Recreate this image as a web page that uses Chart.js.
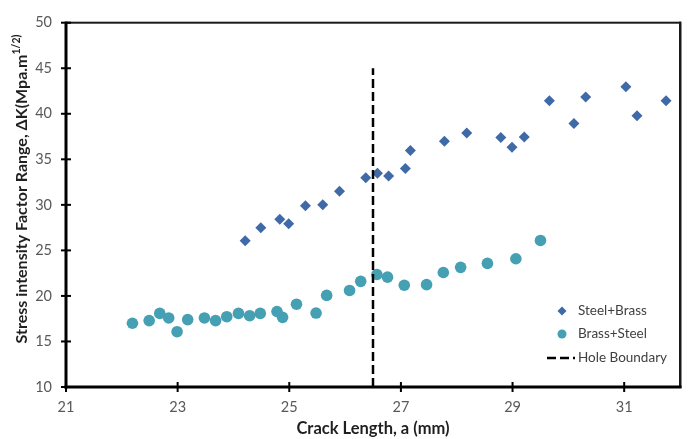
<!DOCTYPE html>
<html>
<head>
<meta charset="utf-8">
<script src="https://cdn.jsdelivr.net/npm/chart.js@4.4.1/dist/chart.umd.min.js"></script>
<style>
  html, body { margin: 0; padding: 0; background: #ffffff; }
  #wrap { width: 688px; height: 439px; position: relative; }
</style>
</head>
<body>
<div id="wrap"><canvas id="c" width="688" height="439"></canvas></div>
<script>
// ---- Data ----
const steelBrassX = [24.21, 24.49, 24.83, 24.99, 25.29, 25.60, 25.90, 26.37, 26.58, 26.78, 27.08, 27.17, 27.78, 28.18, 28.79, 28.99, 29.21, 29.66, 30.10, 30.31, 31.03, 31.23, 31.75];
const steelBrassY = [26.05, 27.49, 28.42, 27.92, 29.89, 30.00, 31.48, 32.98, 33.48, 33.16, 33.99, 35.96, 36.97, 37.89, 37.39, 36.32, 37.45, 41.42, 38.92, 41.85, 42.96, 39.77, 41.42];

const brassSteelX = [22.19, 22.49, 22.68, 22.84, 22.99, 23.18, 23.48, 23.68, 23.88, 24.09, 24.29, 24.48, 24.78, 24.88, 25.13, 25.48, 25.67, 26.08, 26.28, 26.57, 26.76, 27.06, 27.46, 27.76, 28.07, 28.55, 29.06, 29.50];
const brassSteelY = [17.00, 17.29, 18.08, 17.58, 16.07, 17.40, 17.58, 17.29, 17.72, 18.08, 17.83, 18.08, 18.29, 17.65, 19.09, 18.12, 20.06, 20.60, 21.60, 22.35, 22.06, 21.17, 21.24, 22.57, 23.14, 23.57, 24.08, 26.09];

const holeBoundaryX = [26.5, 26.5];
const holeBoundaryY = [10, 45];

const seriesNames = ['Steel+Brass', 'Brass+Steel', 'Hole Boundary'];
const xTickValues = [21, 23, 25, 27, 29, 31];
const yTickValues = [10, 15, 20, 25, 30, 35, 40, 45, 50];
const xRange = [21, 32];
const yRange = [10, 50];
const xTitle = 'Crack Length, a (mm)';
const yTitleMain = 'Stress intensity Factor Range, \u0394K(Mpa.m';
const yTitleSup = '1/2)';

// ---- Styling ----
const FONT = 'Lato, "Open Sans", "DejaVu Sans", sans-serif';
const COL_DIAMOND = '#3f69a7';
const COL_CIRCLE = '#45a0b3';

const zip = (xs, ys) => xs.map((x, i) => ({ x: x, y: ys[i] }));

const framePlugin = {
  id: 'frame',
  afterDraw(chart) {
    const ctx = chart.ctx;
    const a = chart.chartArea;
    const xs = chart.scales.x, ys = chart.scales.y;
    ctx.save();
    ctx.setLineDash([]);
    // filled rectangles instead of strokes for crisp thick frame
    ctx.fillStyle = '#1a1a1a';
    ctx.fillRect(a.left - 1, a.top - 1, a.right - a.left + 2, 2);          // top
    ctx.fillRect(a.right - 1, a.top - 1, 2.5, a.bottom - a.top + 2);       // right
    ctx.fillStyle = '#000';
    ctx.fillRect(a.left - 1.5, a.top - 1, 3, a.bottom - a.top + 2.5);      // left axis
    ctx.fillRect(a.left - 1.5, a.bottom - 1.5, a.right - a.left + 3, 3);   // bottom axis
    // crossing tick marks
    yTickValues.forEach(v => {
      const p = ys.getPixelForValue(v);
      ctx.fillRect(a.left - 5, p - 1, 10, 2);
    });
    xTickValues.forEach(v => {
      const p = xs.getPixelForValue(v);
      ctx.fillRect(p - 1, a.bottom - 5, 2, 10);
    });

    // y-axis title with superscript
    const mainFont = 'bold 16px ' + FONT;
    const supFont = 'bold 10.5px ' + FONT;
    ctx.font = mainFont;
    const w1 = ctx.measureText(yTitleMain).width;
    ctx.font = supFont;
    const w2 = ctx.measureText(yTitleSup).width;
    const total = w1 + w2;
    ctx.translate(22, 189);
    ctx.rotate(-Math.PI / 2);
    ctx.fillStyle = '#1f1f1f';
    ctx.textBaseline = 'middle';
    ctx.textAlign = 'left';
    ctx.font = mainFont;
    ctx.fillText(yTitleMain, -total / 2, 0);
    ctx.font = supFont;
    ctx.fillText(yTitleSup, -total / 2 + w1, -5.5);
    ctx.restore();

    // legend inside plot area (bottom right)
    ctx.save();
    const lx = a.right - 118, tx = a.right - 102;
    const rows = [a.bottom - 76, a.bottom - 53, a.bottom - 29];
    ctx.fillStyle = COL_DIAMOND;
    ctx.beginPath();
    ctx.moveTo(lx, rows[0] - 4.5); ctx.lineTo(lx + 4.5, rows[0]); ctx.lineTo(lx, rows[0] + 4.5); ctx.lineTo(lx - 4.5, rows[0]);
    ctx.closePath(); ctx.fill();
    ctx.fillStyle = COL_CIRCLE;
    ctx.beginPath(); ctx.arc(lx, rows[1], 4.5, 0, Math.PI * 2); ctx.fill();
    ctx.strokeStyle = '#000'; ctx.lineWidth = 2.5;
    ctx.setLineDash([9, 4]);
    ctx.beginPath(); ctx.moveTo(lx - 15, rows[2]); ctx.lineTo(lx + 13, rows[2]); ctx.stroke();
    ctx.setLineDash([]);
    ctx.fillStyle = '#404040';
    ctx.font = '13.5px ' + FONT;
    ctx.textBaseline = 'middle';
    ctx.textAlign = 'left';
    seriesNames.forEach((n, i) => ctx.fillText(n, tx, rows[i]));
    ctx.restore();
  }
};

new Chart(document.getElementById('c'), {
  type: 'scatter',
  data: {
    datasets: [
      {
        label: seriesNames[0],
        data: zip(steelBrassX, steelBrassY),
        pointStyle: 'rectRot',
        pointRadius: 5.5,
        backgroundColor: COL_DIAMOND,
        borderColor: COL_DIAMOND,
        borderWidth: 0,
        order: 2
      },
      {
        label: seriesNames[1],
        data: zip(brassSteelX, brassSteelY),
        pointStyle: 'circle',
        pointRadius: 5.8,
        backgroundColor: COL_CIRCLE,
        borderColor: COL_CIRCLE,
        borderWidth: 0,
        order: 3
      },
      {
        label: seriesNames[2],
        type: 'line',
        data: zip(holeBoundaryX, holeBoundaryY),
        borderColor: '#000',
        borderWidth: 2.5,
        borderDash: [9, 4],
        pointRadius: 0,
        fill: false,
        order: 1
      }
    ]
  },
  plugins: [framePlugin],
  options: {
    responsive: false,
    animation: false,
    events: [],
    layout: { padding: { top: 15, right: 8, left: 0, bottom: 0 } },
    plugins: { legend: { display: false }, tooltip: { enabled: false } },
    scales: {
      x: {
        type: 'linear',
        min: xRange[0], max: xRange[1],
        afterBuildTicks: s => { s.ticks = xTickValues.map(v => ({ value: v })); },
        afterFit: s => { s.height = 52; },
        grid: { display: false, drawTicks: false },
        border: { display: false },
        ticks: { padding: 12, color: '#595959', font: { family: FONT, size: 14.5 }, maxRotation: 0, autoSkip: false },
        title: { display: true, text: xTitle, color: '#1f1f1f', font: { family: FONT, size: 16.5, weight: 'bold' }, padding: { top: 0, bottom: 0 } }
      },
      y: {
        type: 'linear',
        min: yRange[0], max: yRange[1],
        afterBuildTicks: s => { s.ticks = yTickValues.map(v => ({ value: v })); },
        afterFit: s => { s.width = 66; },
        grid: { display: false, drawTicks: false },
        border: { display: false },
        ticks: { padding: 14, color: '#595959', font: { family: FONT, size: 14.5 }, autoSkip: false }
      }
    }
  }
});
</script>
</body>
</html>
